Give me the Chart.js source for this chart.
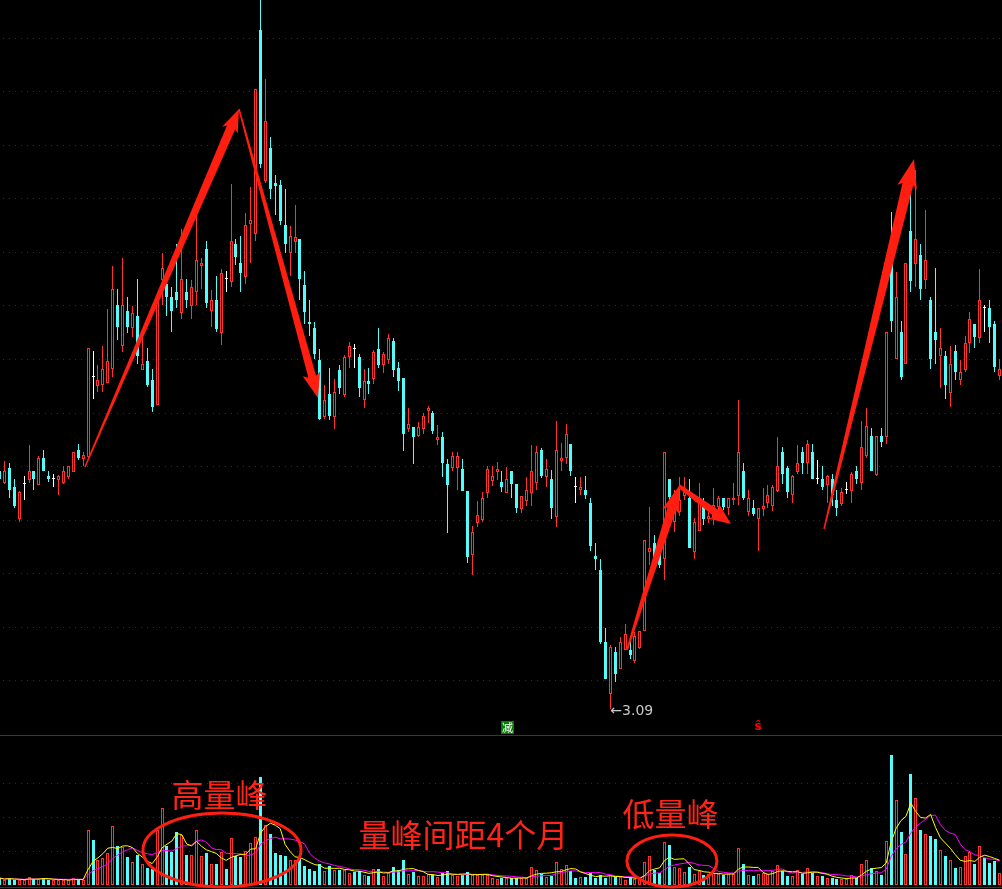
<!DOCTYPE html>
<html><head><meta charset="utf-8">
<script src="https://cdn.jsdelivr.net/npm/chart.js@4.4.1/dist/chart.umd.min.js"></script>
<style>
html,body{margin:0;padding:0;background:#000;overflow:hidden;}
#wrap{position:relative;width:1002px;height:889px;overflow:hidden;background:#000;}
#main{position:absolute;left:-3px;top:0;}
#vol{position:absolute;left:-3px;top:735px;}
</style></head><body>
<div id="wrap"><canvas id="main" width="1005" height="735"></canvas><canvas id="vol" width="1005" height="154"></canvas></div>
<script>
// ---- daily OHLC (price) ----
const opens = [
5.47,5.35,5.50,5.31,4.99,5.34,5.38,5.47,5.33,5.60,
5.42,5.39,5.38,5.35,5.41,5.46,5.68,5.59,5.61,6.41,
6.32,6.33,6.35,6.49,7.13,6.72,7.07,6.90,7.02,6.48,
6.57,6.38,6.13,7.38,7.34,7.21,7.26,7.05,7.26,7.12,
7.26,7.52,7.69,7.07,7.18,6.85,7.39,7.36,7.74,7.55,
7.41,7.94,7.84,9.88,8.37,8.70,8.35,8.33,7.93,7.65,
7.76,7.79,7.33,6.96,6.90,6.58,6.01,6.24,6.01,6.48,
6.23,6.61,6.69,6.61,6.18,6.37,6.39,6.69,6.53,6.58,
6.77,6.50,6.40,5.89,5.91,5.82,5.89,6.07,6.05,5.78,
5.81,5.54,5.50,5.50,5.49,5.27,4.63,4.95,4.98,5.25,
5.37,5.46,5.36,5.25,5.47,5.34,5.09,5.17,5.25,5.35,
5.68,5.41,5.39,5.01,5.57,5.60,5.74,5.31,5.28,5.28,
5.15,4.62,4.48,3.76,3.24,3.66,3.49,3.68,3.68,3.57,
3.70,3.87,4.66,4.75,4.73,4.59,5.39,4.96,5.06,5.22,
5.20,4.66,4.87,5.13,4.99,5.01,5.11,5.20,5.10,5.18,
5.22,5.47,5.06,5.10,4.99,5.09,5.15,5.12,5.27,5.66,
5.50,5.23,5.46,5.66,5.55,5.66,5.39,5.39,5.33,5.39,
5.18,5.14,5.28,5.27,5.47,5.35,5.62,5.82,5.43,5.82,
5.81,7.55,6.59,6.86,6.54,7.87,7.54,7.63,7.38,7.18,
6.86,6.62,6.62,6.25,6.67,6.38,6.48,6.75,6.94,6.80,
7.10,7.10,6.94,6.42];
const highs = [
5.49,5.57,5.55,5.39,5.27,5.42,5.73,5.47,5.62,5.68,
5.47,5.44,5.43,5.52,5.52,5.66,5.74,5.66,6.70,6.67,
6.53,6.72,7.09,7.52,7.29,7.60,7.21,7.12,7.39,6.80,
6.70,6.49,7.23,7.65,7.42,7.31,7.74,7.89,7.39,7.38,
8.06,7.60,7.77,7.28,7.42,7.49,7.47,8.34,7.79,7.82,
8.05,8.31,9.29,10.18,9.39,8.81,8.43,8.38,8.29,7.92,
8.13,7.79,7.47,7.18,6.96,6.69,6.33,6.50,6.39,6.53,
6.63,6.76,6.74,6.64,6.49,6.50,6.68,6.90,6.66,6.84,
6.80,6.56,6.40,6.10,5.91,5.96,6.05,6.12,6.07,5.93,
5.86,5.59,5.66,5.66,5.59,5.27,4.92,5.17,5.26,5.52,
5.52,5.56,5.47,5.51,5.47,5.34,5.22,5.41,5.73,5.72,
5.70,5.59,5.48,5.97,5.75,5.94,5.74,5.41,5.41,5.42,
5.20,4.75,4.59,3.90,3.73,3.71,3.81,3.94,3.78,3.86,
3.87,4.78,5.11,4.83,4.78,5.66,5.39,5.28,5.41,5.41,
5.39,5.00,5.35,5.20,5.06,5.30,5.22,5.20,5.20,5.35,
6.18,5.55,5.28,5.18,5.10,5.30,5.33,5.33,5.81,5.71,
5.52,5.43,5.73,5.71,5.78,5.74,5.58,5.52,5.43,5.44,
5.28,5.30,5.36,5.46,5.52,5.97,6.10,5.90,5.82,5.90,
6.86,8.06,7.46,6.97,7.55,8.30,8.48,7.74,8.08,7.21,
7.50,6.90,6.67,6.72,6.73,6.58,6.82,7.06,6.94,7.49,
7.13,7.18,6.97,6.59];
const lows = [
5.37,5.34,5.20,5.10,4.96,5.18,5.35,5.28,5.33,5.47,
5.36,5.31,5.23,5.34,5.39,5.46,5.58,5.52,5.58,6.19,
6.26,6.26,6.35,6.41,6.78,6.66,6.85,6.81,6.54,6.48,
6.31,6.06,6.13,7.13,7.02,6.86,7.10,6.99,7.10,6.99,
7.13,7.29,7.10,6.91,6.86,6.73,7.26,7.31,7.53,7.26,
7.34,7.55,7.77,8.50,8.35,8.19,8.03,7.93,7.65,7.42,
7.65,7.18,6.94,6.82,6.59,5.98,5.99,5.98,5.89,6.24,
6.21,6.50,6.50,6.21,6.10,6.24,6.34,6.50,6.45,6.54,
6.41,6.27,5.67,5.86,5.54,5.81,5.84,5.95,5.84,5.73,
5.41,4.85,5.47,5.28,5.27,4.55,4.43,4.91,4.96,5.20,
5.32,5.38,5.26,5.25,5.20,5.05,5.05,5.12,5.12,5.28,
5.40,5.31,4.99,4.91,5.47,5.54,5.42,5.15,5.23,5.19,
4.67,4.48,3.74,3.39,3.09,3.36,3.49,3.68,3.59,3.55,
3.69,3.87,4.53,4.51,4.50,4.38,5.18,4.86,5.02,5.18,
4.70,4.59,4.87,4.93,4.95,4.93,5.05,5.08,5.03,5.13,
5.13,5.18,5.02,5.02,4.67,5.02,5.10,5.07,5.26,5.34,
5.20,5.15,5.44,5.44,5.44,5.39,5.34,5.28,5.15,5.12,
5.02,5.12,5.24,5.15,5.34,5.28,5.60,5.47,5.42,5.71,
5.74,6.86,6.59,6.38,6.54,7.26,7.31,7.18,7.29,6.49,
6.54,6.30,6.19,6.11,6.38,6.33,6.46,6.65,6.70,6.75,
6.86,6.75,6.46,6.38];
const closes = [
5.39,5.47,5.28,5.12,5.26,5.34,5.47,5.39,5.60,5.47,
5.39,5.39,5.42,5.47,5.52,5.66,5.60,5.63,6.70,6.41,
6.38,6.49,6.57,7.29,6.91,7.13,6.91,7.05,6.62,6.54,
6.33,6.11,7.18,7.50,7.21,7.07,7.18,7.39,7.18,7.31,
7.58,7.55,7.15,7.18,6.89,7.45,7.39,7.77,7.61,7.45,
7.93,7.98,9.29,8.54,8.97,8.29,8.32,7.97,7.74,7.82,
7.81,7.39,7.06,6.94,6.64,5.99,6.18,6.02,6.26,6.30,
6.61,6.72,6.69,6.30,6.37,6.34,6.66,6.53,6.64,6.80,
6.48,6.37,5.84,5.94,5.81,5.91,6.02,6.10,5.87,5.81,
5.55,5.33,5.62,5.62,5.27,4.61,4.86,5.03,5.20,5.49,
5.42,5.49,5.31,5.39,5.34,5.10,5.22,5.28,5.47,5.66,
5.42,5.49,5.10,5.68,5.60,5.84,5.47,5.31,5.31,5.23,
4.72,4.59,3.76,3.39,3.71,3.44,3.76,3.84,3.63,3.82,
3.87,4.78,4.70,4.59,4.53,5.66,5.21,5.21,5.18,5.26,
4.70,4.96,5.20,4.99,5.02,5.13,5.20,5.11,5.20,5.20,
5.66,5.20,5.20,5.04,5.10,5.12,5.23,5.31,5.52,5.44,
5.26,5.42,5.55,5.55,5.74,5.39,5.39,5.31,5.42,5.23,
5.10,5.26,5.28,5.44,5.39,5.71,5.92,5.47,5.82,5.76,
6.86,6.97,7.21,6.41,7.55,7.37,7.79,7.29,7.58,6.59,
6.78,6.70,6.33,6.54,6.46,6.46,6.75,6.99,6.81,7.18,
7.10,6.91,6.51,6.49];
// ---- volume ----
const volumes = [
7,5,7,5,5,5,8,6,6,7,
5,5,5,5,5,7,6,5,55,45,
25,27,32,59,39,38,28,23,30,21,
17,16,55,77,39,33,53,50,30,30,
55,29,32,21,21,33,16,47,29,28,
34,42,48,108,60,51,32,30,29,25,
25,28,19,16,14,21,14,19,15,15,
15,12,13,14,10,9,16,16,9,12,
18,15,25,11,13,9,9,11,10,8,
12,14,10,9,10,13,10,10,10,10,
7,6,7,7,7,7,7,7,18,15,
11,8,9,23,16,20,14,7,8,8,
12,7,10,7,10,8,8,5,7,6,
7,23,29,15,12,43,40,18,17,13,
18,11,14,10,11,12,11,10,11,11,
37,21,10,9,11,12,11,14,20,14,
9,9,15,11,17,12,9,9,7,7,
6,6,6,10,7,21,25,17,14,10,
44,130,85,53,31,111,87,55,51,49,
46,35,29,25,17,18,29,33,21,39,
27,22,24,12];
// price grid levels of the main panel, volume grid levels
const priceGrid = [3.38,3.915,4.45,4.985,5.52,6.055,6.59,7.125,7.66,8.195,8.73,9.265,9.80];
const volGrid = [34,68,102];
// annotation texts
const noteHigh = '高量峰', noteGap = '量峰间距4个月', noteLow = '低量峰';

const N = opens.length;
const labels = opens.map((_, i) => String(i + 1));
const UP = '#ff3232', DOWN = '#54fcfc', DOJI = '#ffffff';
const dir = opens.map((o, i) => closes[i] > o ? 1 : (closes[i] < o ? -1 : 0));
const candleColor = dir.map(d => d > 0 ? UP : (d < 0 ? DOWN : DOJI));
const bodyFill = dir.map(d => d > 0 ? '#000000' : (d < 0 ? DOWN : DOJI));
const volDir = dir.map((d, i) => d !== 0 ? d : (i > 0 && closes[i] < closes[i - 1] ? -1 : 1));
const volLine = volDir.map(d => d > 0 ? UP : DOWN);
const volFill = volDir.map(d => d > 0 ? '#000000' : DOWN);

function movingAvg(arr, n) {
  return arr.map((_, i) => {
    const s = arr.slice(Math.max(0, i - n + 1), i + 1);
    return s.reduce((a, b) => a + b, 0) / s.length;
  });
}
const ma5 = movingAvg(volumes, 5), ma10 = movingAvg(volumes, 10);

function dotted(ctx, y, x0, x1) {
  ctx.save();
  ctx.strokeStyle = '#a00000'; ctx.lineWidth = 1; ctx.setLineDash([1, 5]);
  ctx.beginPath(); ctx.moveTo(x0, Math.round(y) + 0.5); ctx.lineTo(x1, Math.round(y) + 0.5); ctx.stroke();
  ctx.restore();
}
function taperArrow(ctx, x1, y1, x2, y2, w1, w2, hl, hw) {
  const dx = x2 - x1, dy = y2 - y1, L = Math.hypot(dx, dy), ux = dx / L, uy = dy / L, px = -uy, py = ux;
  const bx = x2 - ux * hl, by = y2 - uy * hl;
  ctx.beginPath();
  ctx.moveTo(x1 + px * w1 / 2, y1 + py * w1 / 2);
  ctx.lineTo(bx + px * w2 / 2, by + py * w2 / 2);
  ctx.lineTo(bx - ux * 3 + px * hw / 2, by - uy * 3 + py * hw / 2);
  ctx.lineTo(x2, y2);
  ctx.lineTo(bx - ux * 3 - px * hw / 2, by - uy * 3 - py * hw / 2);
  ctx.lineTo(bx - px * w2 / 2, by - py * w2 / 2);
  ctx.lineTo(x1 - px * w1 / 2, y1 - py * w1 / 2);
  ctx.closePath(); ctx.fill();
}

// snap bar elements (positioned by the library's scales) to whole pixels for crisp candles
const snapBars = {
  id: 'snapBars',
  beforeDatasetsDraw(chart) {
    chart.getSortedVisibleDatasetMetas().forEach(meta => {
      if (meta.type !== 'bar') return;
      meta.data.forEach(el => {
        const w = el.width;
        el.x = Math.round(el.x - w / 2) + w / 2;
        let y = Math.round(el.y), b = Math.round(el.base);
        if (y === b) y = b - 1;
        el.y = y; el.base = b;
      });
    });
  }
};

// arrows in (candle index, price)
const arrows = [
  {from: [17.36, 5.51], to: [48.62, 9.09], w1: 1.5, w2: 9, hl: 20, hw: 17},
  {from: [48.62, 9.09], to: [64.66, 6.20], w1: 1.5, w2: 8, hl: 22, hw: 18},
  {from: [127.38, 3.68], to: [137.94, 5.32], w1: 2, w2: 9, hl: 24, hw: 18},
  {from: [137.94, 5.32], to: [148.49, 4.94], w1: 4, w2: 8, hl: 18, hw: 18},
  {from: [167.37, 4.89], to: [185.64, 8.59], w1: 1.5, w2: 11, hl: 26, hw: 20}
];

const mainDecor = {
  id: 'mainDecor',
  beforeDatasetsDraw(chart) {
    const ctx = chart.ctx, y = chart.scales.y;
    priceGrid.forEach(v => dotted(ctx, y.getPixelForValue(v), 0, chart.width));
  },
  afterDatasetsDraw(chart) {
    const ctx = chart.ctx, xs = chart.scales.x, ys = chart.scales.y;
    ctx.save();
    ctx.fillStyle = '#ff1e10';
    arrows.forEach(a => taperArrow(ctx,
      xs.getPixelForValue(a.from[0]), ys.getPixelForValue(a.from[1]),
      xs.getPixelForValue(a.to[0]), ys.getPixelForValue(a.to[1]), a.w1, a.w2, a.hl, a.hw));
    // lowest price label
    let mi = 0; lows.forEach((l, i) => { if (l < lows[mi]) mi = i; });
    const lx = xs.getPixelForValue(mi), ly = ys.getPixelForValue(lows[mi]);
    ctx.fillStyle = '#c8c8c8'; ctx.font = '14px "DejaVu Sans", sans-serif';
    ctx.textAlign = 'left'; ctx.textBaseline = 'middle';
    ctx.fillText('←' + lows[mi].toFixed(2), lx, ly + 2);
    // signal markers
    const bottom = chart.chartArea.bottom;
    const gx = xs.getPixelForValue(103);
    ctx.fillStyle = '#008000'; ctx.fillRect(Math.round(gx) - 6, bottom - 14, 13, 13);
    ctx.fillStyle = '#ffffff'; ctx.font = '11px "Noto Sans CJK SC", sans-serif'; ctx.textAlign = 'center';
    ctx.fillText('减', Math.round(gx) + 0.5, bottom - 7.5);
    const sx = xs.getPixelForValue(154);
    ctx.fillStyle = '#ff0000'; ctx.font = 'bold 12px "DejaVu Sans", sans-serif';
    ctx.fillText('ŝ', sx, bottom - 8);
    ctx.restore();
  }
};

new Chart(document.getElementById('main'), {
  type: 'bar',
  data: {labels, datasets: [
    {label: 'body', data: opens.map((o, i) => [o, closes[i]]), backgroundColor: bodyFill, borderColor: candleColor,
     borderWidth: dir.map(d => d > 0 ? 1 : 0), borderSkipped: false, barThickness: 3, grouped: false, order: 0,
     minBarLength: 1, inflateAmount: 0},
    {label: 'wick', data: lows.map((l, i) => [l, highs[i]]), backgroundColor: candleColor, borderWidth: 0,
     barThickness: 1, grouped: false, order: 1, inflateAmount: 0}
  ]},
  options: {
    responsive: false, animation: false, devicePixelRatio: 1, events: [], layout: {padding: 0},
    scales: {x: {display: false, offset: true}, y: {display: false, min: 2.83, max: 10.18}},
    plugins: {legend: {display: false}, tooltip: {enabled: false}}
  },
  plugins: [snapBars, mainDecor]
});

const volDecor = {
  id: 'volDecor',
  beforeDatasetsDraw(chart) {
    const ctx = chart.ctx, y = chart.scales.y;
    volGrid.forEach(v => dotted(ctx, y.getPixelForValue(v), 0, chart.width));
    ctx.save();
    ctx.strokeStyle = '#c00000'; ctx.lineWidth = 1;
    ctx.beginPath(); ctx.moveTo(0, 0.5); ctx.lineTo(chart.width, 0.5); ctx.stroke();
    const by = Math.round(y.getPixelForValue(-2)) + 0.5;
    ctx.strokeStyle = '#b00000';
    ctx.beginPath(); ctx.moveTo(0, by); ctx.lineTo(chart.width, by); ctx.stroke();
    ctx.restore();
  },
  afterDatasetsDraw(chart) {
    const ctx = chart.ctx, xs = chart.scales.x, ys = chart.scales.y;
    ctx.save();
    ctx.strokeStyle = '#ff1e10'; ctx.lineWidth = 3;
    [[45.17, 35, 79, 37], [136.5, 24, 45, 26]].forEach(e => {
      ctx.beginPath();
      ctx.ellipse(xs.getPixelForValue(e[0]), ys.getPixelForValue(e[1]), e[2], e[3], 0, 0, Math.PI * 2);
      ctx.stroke();
    });
    ctx.fillStyle = '#ff2418';
    ctx.font = '32px "Noto Sans CJK SC", sans-serif';
    ctx.textAlign = 'center'; ctx.textBaseline = 'middle';
    ctx.fillText(noteHigh, xs.getPixelForValue(44.66), ys.getPixelForValue(90));
    ctx.fillText(noteGap, xs.getPixelForValue(94.19), ys.getPixelForValue(50));
    ctx.fillText(noteLow, xs.getPixelForValue(136.21), ys.getPixelForValue(71));
    ctx.restore();
  }
};

new Chart(document.getElementById('vol'), {
  type: 'bar',
  data: {labels, datasets: [
    {type: 'line', label: 'MA5', data: ma5, borderColor: '#ffff00', borderWidth: 1, pointRadius: 0, tension: 0, order: 0},
    {type: 'line', label: 'MA10', data: ma10, borderColor: '#ff00ff', borderWidth: 1, pointRadius: 0, tension: 0, order: 1},
    {type: 'bar', label: 'VOL', data: volumes, backgroundColor: volFill, borderColor: volLine,
     borderWidth: volDir.map(d => d > 0 ? 1 : 0), borderSkipped: false, barThickness: 3, order: 2, inflateAmount: 0}
  ]},
  options: {
    responsive: false, animation: false, devicePixelRatio: 1, events: [], layout: {padding: 0},
    scales: {x: {display: false, offset: true}, y: {display: false, min: -4, max: 150}},
    plugins: {legend: {display: false}, tooltip: {enabled: false}}
  },
  plugins: [snapBars, volDecor]
});
</script>
</body></html>
